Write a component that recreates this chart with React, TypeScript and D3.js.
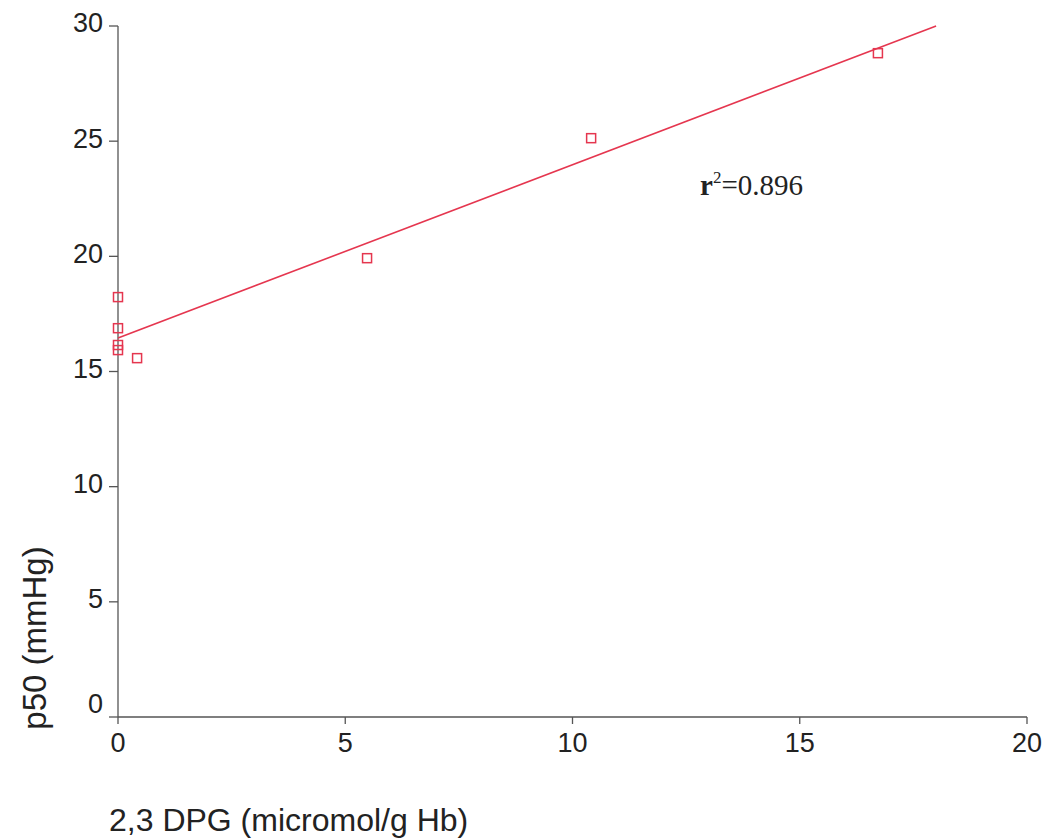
import React from "react";
import * as d3 from "d3";

const dpg = [0, 0, 0, 0, 0.42, 5.48, 10.41, 16.72];
const p50 = [18.23, 16.88, 16.15, 15.93, 15.58, 19.92, 25.13, 28.82];
const trendX = [0, 18];
const trendY = [16.45, 30.0];
const xTicks = [0, 5, 10, 15, 20];
const yTicks = [0, 5, 10, 15, 20, 25, 30];
const xTitle = "2,3 DPG (micromol/g Hb)";
const yTitle = "p50 (mmHg)";

export default function App() {
  const W = 1045, H = 840;
  const x = d3.scaleLinear().domain([0, 20]).range([118, 1027]);
  const y = d3.scaleLinear().domain([0, 30]).range([717, 26]);
  const red = "#e5364f";
  const axis = "#555";
  const font = "'Liberation Sans', Arial, sans-serif";
  const line = d3.line<number>().x((d) => x(trendX[d])).y((d) => y(trendY[d]));
  const s = 9;
  return (
    <svg width={W} height={H} style={{ position: "absolute", left: 0, top: 0, background: "#fff" }}>
      <rect width={W} height={H} fill="#fff" />
      {/* axes */}
      <line x1={x(0)} x2={x(20)} y1={y(0)} y2={y(0)} stroke={axis} strokeWidth={1.3} />
      <line x1={x(0)} x2={x(0)} y1={y(0)} y2={y(30)} stroke={axis} strokeWidth={1.3} />
      {yTicks.map((t) => (
        <g key={"y" + t}>
          <line x1={x(0) - 9} x2={x(0)} y1={y(t)} y2={y(t)} stroke={axis} strokeWidth={1.3} />
          <text x={103} y={y(t) + (t === 0 ? -13 : -3)} dy="0.35em" textAnchor="end" fontFamily={font} fontSize={27} fill="#222">
            {t}
          </text>
        </g>
      ))}
      {xTicks.map((t) => (
        <g key={"x" + t}>
          <line x1={x(t)} x2={x(t)} y1={y(0)} y2={y(0) + 7} stroke={axis} strokeWidth={1.3} />
          <text x={x(t)} y={752} textAnchor="middle" fontFamily={font} fontSize={27} fill="#222">
            {t}
          </text>
        </g>
      ))}
      <text x={109} y={831} fontFamily={font} fontSize={32} fill="#222">{xTitle}</text>
      <text transform={`translate(46, 638) rotate(-90)`} textAnchor="middle" fontFamily={font} fontSize={33} fill="#222">
        {yTitle}
      </text>
      {/* trend line */}
      <path d={line([0, 1]) || ""} fill="none" stroke={red} strokeWidth={1.6} />
      {/* points */}
      {dpg.map((v, i) => (
        <rect key={i} x={x(v) - s / 2} y={y(p50[i]) - s / 2} width={s} height={s} fill="none" stroke={red} strokeWidth={1.5} />
      ))}
      <text x={700} y={195} fontFamily="'Liberation Serif', 'Times New Roman', serif" fontSize={29} fill="#222">
        <tspan fontWeight="bold">r</tspan>
        <tspan fontSize={17} dy={-12}>2</tspan>
        <tspan dy={12}>=0.896</tspan>
      </text>
    </svg>
  );
}
